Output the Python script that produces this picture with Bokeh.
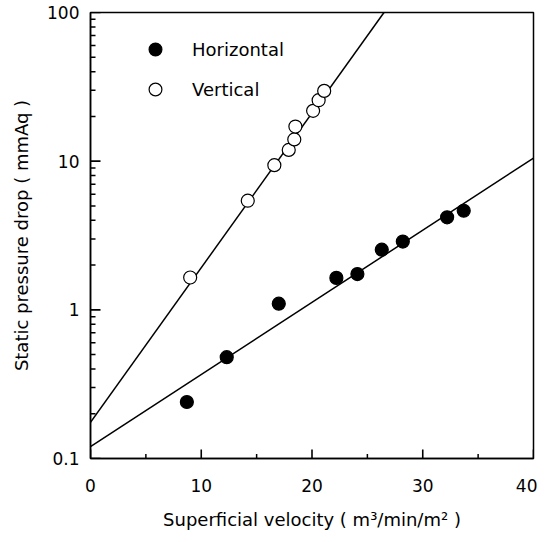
import math
from bokeh.plotting import figure
from bokeh.models import Range1d, FixedTicker, CustomJSTickFormatter, Legend, LegendItem
from bokeh.embed import file_html
from bokeh.resources import INLINE

# Data
horiz_x = [8.7, 12.3, 17.0, 22.2, 24.1, 26.3, 28.2, 32.2, 33.7]
horiz_y = [0.24, 0.48, 1.10, 1.64, 1.74, 2.54, 2.88, 4.19, 4.64]
vert_x = [9.0, 14.2, 16.6, 17.9, 18.4, 18.5, 20.1, 20.6, 21.1]
vert_y = [1.65, 5.42, 9.4, 11.9, 14.0, 17.1, 21.8, 25.7, 29.7]
horiz_fit_x = [0, 40]
horiz_fit_y = [0.12, 10.5]
vert_fit_x = [0, 26.5]
vert_fit_y = [0.175, 100]
y_major = [0.1, 1, 10, 100]
y_minor = [m * d for d in [0.1, 1, 10] for m in range(2, 10)]
x_major = [0, 10, 20, 30, 40]
x_minor = [5, 15, 25, 35]

X_MIN, X_MAX = 0, 40
Y_MIN, Y_MAX = 0.1, 100

FONT = "DejaVu Sans"

p = figure(width=537, height=532, output_backend="svg", toolbar_location=None,
           y_axis_type="log", x_range=Range1d(X_MIN, X_MAX), y_range=Range1d(Y_MIN, Y_MAX),
           min_border_left=90, min_border_top=12, min_border_right=4, min_border_bottom=70)
p.grid.visible = False
p.outline_line_color = "black"
p.outline_line_width = 1.5
p.background_fill_color = "white"
p.border_fill_color = "white"

p.line(horiz_fit_x, horiz_fit_y, line_color="black", line_width=1.5)
p.line(vert_fit_x, vert_fit_y, line_color="black", line_width=1.5)
rh = p.scatter(horiz_x, horiz_y, size=13, fill_color="black", line_color="black", line_width=1.2)
rv = p.scatter(vert_x, vert_y, size=13, fill_color="white", line_color="black", line_width=1.2)

# Inward tick marks (centred dashes on the axis lines; the outer half is clipped by the frame)
p.scatter(x_major, [Y_MIN] * len(x_major), marker="dash", angle=math.pi / 2, size=18,
          line_color="black", line_width=1.6)
p.scatter(x_minor, [Y_MIN] * len(x_minor), marker="dash", angle=math.pi / 2, size=9,
          line_color="black", line_width=1.5)
p.scatter([X_MIN] * len(y_major), y_major, marker="dash", size=20,
          line_color="black", line_width=1.6)
p.scatter([X_MIN] * len(y_minor), y_minor, marker="dash", size=10,
          line_color="black", line_width=1.5)

# Axes
p.xaxis.ticker = FixedTicker(ticks=x_major, minor_ticks=x_minor)
p.yaxis.ticker = FixedTicker(ticks=y_major, minor_ticks=y_minor)
p.yaxis.formatter = CustomJSTickFormatter(code="return tick.toString();")
for ax in (p.xaxis[0], p.yaxis[0]):
    ax.axis_line_color = "black"
    ax.axis_line_width = 1.5
    ax.major_tick_in = 0
    ax.major_tick_out = 0
    ax.minor_tick_in = 0
    ax.minor_tick_out = 0
    ax.major_label_text_font = FONT
    ax.major_label_text_font_size = "17px"
    ax.major_label_text_color = "black"
    ax.axis_label_text_font = FONT
    ax.axis_label_text_font_size = "18px"
    ax.axis_label_text_font_style = "normal"
    ax.axis_label_text_color = "black"

p.xaxis.axis_label = "Superficial velocity ( m\u00b3/min/m\u00b2 )"
p.yaxis.axis_label = "Static pressure drop ( mmAq )"
p.xaxis.major_label_standoff = 20
p.xaxis.axis_label_standoff = 14
p.yaxis.major_label_standoff = 11
p.yaxis.axis_label_standoff = 12

legend = Legend(items=[LegendItem(label="Horizontal", renderers=[rh]),
                       LegendItem(label="Vertical", renderers=[rv])],
                location=(49, 353), padding=0, margin=0, spacing=8,
                glyph_width=32, glyph_height=32, label_standoff=21,
                border_line_color=None, background_fill_alpha=0,
                label_text_font=FONT, label_text_font_size="18px", label_text_color="black")
p.add_layout(legend, "center")

open("out.html", "w").write(file_html(p, INLINE))
